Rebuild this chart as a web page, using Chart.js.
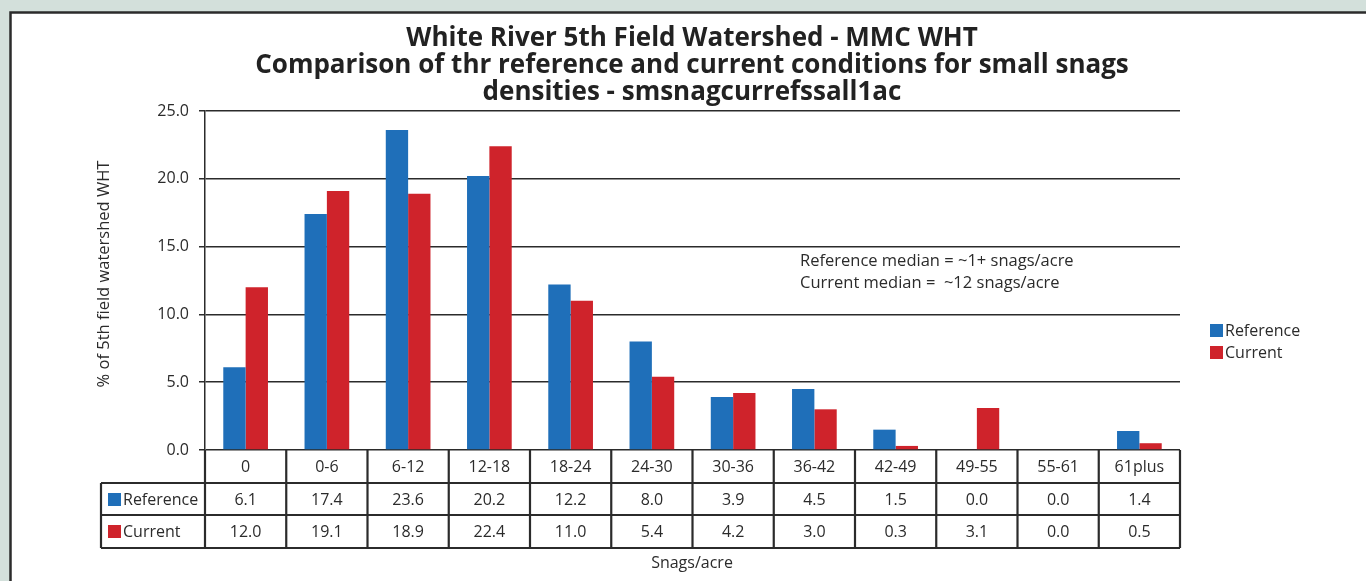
<!DOCTYPE html>
<html>
<head>
<meta charset="utf-8">
<script src="https://cdn.jsdelivr.net/npm/chart.js@4"></script>
<style>
  html, body { margin: 0; padding: 0; background: #d3e0db; }
  #wrap { width: 1366px; height: 581px; }
</style>
</head>
<body>
<div id="wrap"><canvas id="snags" width="1366" height="581"></canvas></div>
<script>
const categories = ["0", "0-6", "6-12", "12-18", "18-24", "24-30", "30-36", "36-42", "42-49", "49-55", "55-61", "61plus"];
const reference = [6.1, 17.4, 23.6, 20.2, 12.2, 8.0, 3.9, 4.5, 1.5, 0.0, 0.0, 1.4];
const current = [12.0, 19.1, 18.9, 22.4, 11.0, 5.4, 4.2, 3.0, 0.3, 3.1, 0.0, 0.5];
const titleLines = [
  "White River 5th Field Watershed - MMC WHT",
  "Comparison of thr reference and current conditions for small snags",
  "densities - smsnagcurrefssall1ac"
];
const notes = ["Reference median = ~1+ snags/acre", "Current median =  ~12 snags/acre"];

const BLUE = "#1f6fb9";
const RED = "#cf232b";
const INK = "#2b2b2b";
const FONT = "'Open Sans', 'Liberation Sans', sans-serif";

// page frame, titles, legend and the data table under the bars
const decor = {
  id: "decor",
  beforeDraw(chart) {
    const c = chart.ctx;
    c.save();
    c.fillStyle = "#d3e0db";
    c.fillRect(0, 0, chart.width, chart.height);
    c.fillStyle = "#fff";
    c.fillRect(10, 12, chart.width, chart.height);
    c.strokeStyle = INK;
    c.lineWidth = 2.5;
    c.beginPath();
    c.moveTo(10.5, chart.height + 5);
    c.lineTo(10.5, 12.5);
    c.lineTo(chart.width + 5, 12.5);
    c.stroke();
    c.restore();
  },
  afterDraw(chart) {
    const c = chart.ctx;
    const area = chart.chartArea;
    const x = chart.scales.x;
    c.save();
    c.fillStyle = "#222";
    c.textAlign = "center";
    c.textBaseline = "middle";
    c.font = "bold 26px " + FONT;
    titleLines.forEach((t, i) => c.fillText(t, 692, 39 + i * 27));

    c.fillStyle = INK;
    c.font = "16.5px " + FONT;
    c.textAlign = "left";
    notes.forEach((t, i) => c.fillText(t, 800, 261 + i * 22));

    // legend
    [["Reference", BLUE], ["Current", RED]].forEach(([name, col], i) => {
      c.fillStyle = col;
      c.fillRect(1210, 324 + i * 22, 13, 13);
      c.fillStyle = INK;
      c.font = "16px " + FONT;
      c.fillText(name, 1225, 331 + i * 22);
    });

    // y axis title
    c.save();
    c.translate(104, 274);
    c.rotate(-Math.PI / 2);
    c.textAlign = "center";
    c.font = "16.5px " + FONT;
    c.fillText("% of 5th field watershed WHT", 0, 0);
    c.restore();

    // table
    const left = area.left, right = area.right;
    const r0 = area.bottom, r1 = 483, r2 = 515, r3 = 548;
    const legL = 101;
    const colW = (right - left) / categories.length;
    c.strokeStyle = INK;
    c.lineWidth = 2.2;
    c.beginPath();
    c.moveTo(legL, r1); c.lineTo(right, r1);
    c.moveTo(legL, r2); c.lineTo(right, r2);
    c.moveTo(legL, r3); c.lineTo(right, r3);
    c.moveTo(legL, r1); c.lineTo(legL, r3);
    for (let i = 0; i <= categories.length; i++) {
      const xx = left + i * colW;
      c.moveTo(xx, r0); c.lineTo(xx, r3);
    }
    c.stroke();

    c.font = "16px " + FONT;
    c.textAlign = "center";
    c.fillStyle = INK;
    categories.forEach((cat, i) => {
      const cx = x.getPixelForTick(i);
      c.fillText(cat, cx, (r0 + r1) / 2 + 1);
      c.fillText(reference[i].toFixed(1), cx, (r1 + r2) / 2 + 1);
      c.fillText(current[i].toFixed(1), cx, (r2 + r3) / 2 + 1);
    });
    [["Reference", BLUE, r1], ["Current", RED, r2]].forEach(([name, col, top]) => {
      c.fillStyle = col;
      c.fillRect(108, top + 10, 13, 13);
      c.fillStyle = INK;
      c.textAlign = "left";
      c.fillText(name, 123, top + 17);
    });

    c.font = "16px " + FONT;
    c.textAlign = "center";
    c.fillText("Snags/acre", 692, 563);
    c.restore();
  }
};

new Chart(document.getElementById("snags"), {
  type: "bar",
  data: {
    labels: categories,
    datasets: [
      { label: "Reference", data: reference, backgroundColor: BLUE },
      { label: "Current", data: current, backgroundColor: RED }
    ]
  },
  options: {
    responsive: false,
    animation: false,
    categoryPercentage: 0.55,
    barPercentage: 1.0,
    layout: { padding: { left: 145, top: 111, right: 186, bottom: 131 } },
    plugins: {
      legend: { display: false },
      title: { display: false },
      tooltip: { enabled: false }
    },
    scales: {
      x: { display: false },
      y: {
        min: 0,
        max: 25,
        afterFit: s => { s.width = 60; },
        ticks: {
          stepSize: 5,
          padding: 10,
          color: INK,
          font: { size: 16, family: FONT },
          callback: v => v.toFixed(1)
        },
        grid: { color: INK, lineWidth: 1.5, tickLength: 6, tickColor: INK },
        border: { color: INK, width: 1.5 }
      }
    }
  },
  plugins: [decor]
});
</script>
</body>
</html>
